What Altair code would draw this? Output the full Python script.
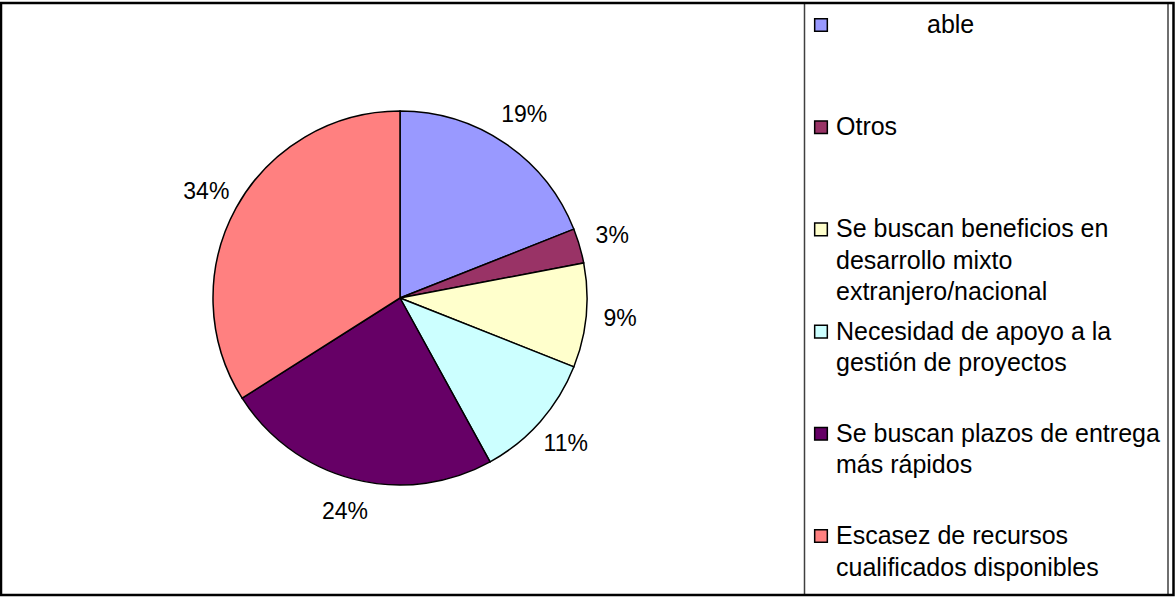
import altair as alt
import pandas as pd

categories = [
    "able",
    "Otros",
    "Se buscan beneficios en desarrollo mixto extranjero/nacional",
    "Necesidad de apoyo a la gestión de proyectos",
    "Se buscan plazos de entrega más rápidos",
    "Escasez de recursos cualificados disponibles",
]
legend_labels = [
    "able",
    "Otros",
    "Se buscan beneficios en\ndesarrollo mixto\nextranjero/nacional",
    "Necesidad de apoyo a la\ngestión de proyectos",
    "Se buscan plazos de entrega\nmás rápidos",
    "Escasez de recursos\ncualificados disponibles",
]
shares = [19, 3, 9, 11, 24, 34]
pct_labels = ["19%", "3%", "9%", "11%", "24%", "34%"]
colors = ["#9999FF", "#993366", "#FFFFCC", "#CCFFFF", "#660066", "#FF8080"]

df = pd.DataFrame({
    "idx": list(range(len(categories))),
    "cat": categories,
    "legend": legend_labels,
    "share": shares,
    "pct": pct_labels,
})

FONT = "Liberation Sans"
CX, CY = 400, 298

color_enc = alt.Color("cat:N", scale=alt.Scale(domain=categories, range=colors), legend=None)
theta_enc = alt.Theta("share:Q", stack=True)
order_enc = alt.Order("idx:Q", sort="ascending")

arcs = alt.Chart(df).mark_arc(outerRadius=187, stroke="black", strokeWidth=1.5).encode(
    theta=theta_enc, order=order_enc, color=color_enc,
    x=alt.value(CX), y=alt.value(CY),
)

labels = alt.Chart(df).mark_text(radius=221, fontSize=23, font=FONT, color="black").encode(
    theta=theta_enc, order=order_enc, text="pct:N",
    x=alt.value(CX), y=alt.value(CY),
)

yleg = alt.Y("idx:Q", scale=alt.Scale(domain=[0, 5], range=[25, 536]), axis=None)

leg_sq = alt.Chart(df).mark_square(size=160, filled=True, stroke="black", strokeWidth=1.5, opacity=1).encode(
    x=alt.value(821), y=yleg, color=color_enc,
)

txt_style = dict(align="left", baseline="middle", fontSize=25, font=FONT, color="black",
                 lineBreak="\n", lineHeight=31.5)

leg_txt_first = alt.Chart(df).transform_filter("datum.idx == 0").mark_text(dx=91, **txt_style).encode(
    x=alt.value(836), y=yleg, text="legend:N",
)
leg_txt = alt.Chart(df).transform_filter("datum.idx > 0").mark_text(**txt_style).encode(
    x=alt.value(836), y=yleg, text="legend:N",
)

frame_df = pd.DataFrame({"k": [0]})
outer = alt.Chart(frame_df).mark_rect(filled=False, stroke="black", strokeWidth=2.5).encode(
    x=alt.value(1), x2=alt.value(1173.5), y=alt.value(3), y2=alt.value(595),
)
legend_box = alt.Chart(frame_df).mark_rect(filled=False, stroke="#404040", strokeWidth=1.5).encode(
    x=alt.value(804.5), x2=alt.value(1168), y=alt.value(3), y2=alt.value(595),
)

chart = alt.layer(arcs, labels, legend_box, leg_sq, leg_txt_first, leg_txt, outer).properties(
    width=1175, height=598, padding=0, autosize=alt.AutoSizeParams(type="none"),
    background="white",
).configure_view(stroke=None)

chart.save("out.html", embed_options={"renderer": "svg", "actions": False})
